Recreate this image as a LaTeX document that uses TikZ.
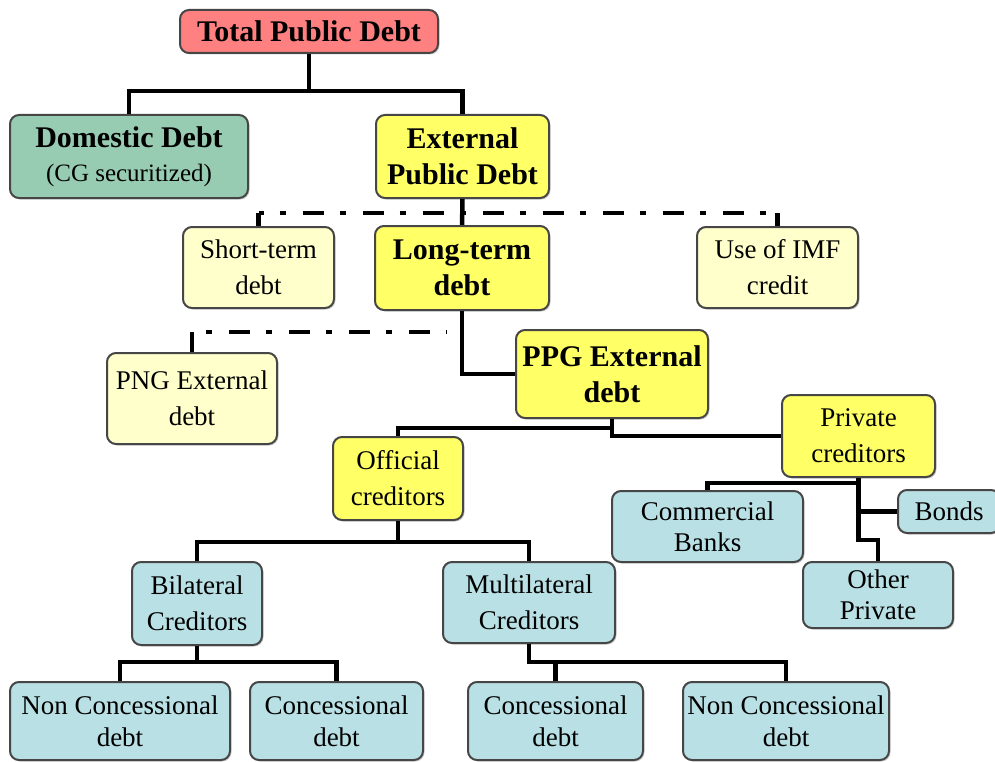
\documentclass[tikz,border=0pt]{standalone}
\usepackage{fontspec}
\setmainfont{Liberation Serif}
\usepackage{tikz}
\usetikzlibrary{shadows}
\definecolor{salmon}{RGB}{255,128,128}
\definecolor{seagreen}{RGB}{152,204,178}
\definecolor{lemon}{RGB}{255,255,102}
\definecolor{cream}{RGB}{255,255,204}
\definecolor{iceblue}{RGB}{185,224,228}
\definecolor{rim}{RGB}{70,70,70}
\tikzset{
block/.style = {draw=rim, line width=2pt, rounded corners=9pt, align=center, inner sep=2pt,
    font=\fontsize{27}{36}\selectfont,
    drop shadow={shadow xshift=1.5pt, shadow yshift=-1.5pt, opacity=0.35}},
hblock/.style = {block, font=\fontsize{30}{36}\selectfont\bfseries},
tmp/.style  = {coordinate},
tree/.style = {line width=4.5pt},
opt/.style  = {tree, dash pattern=on 21pt off 16pt on 6pt off 17pt}
}

\begin{document}
\begin{tikzpicture}[x=1pt,y=-1pt]
    \path [use as bounding box, fill=white] (0,0) rectangle (995,762);
    % We start by placing the boxes
    \node [hblock, fill=salmon, minimum width=258pt, minimum height=43pt] (Total) at (309,31.5) {Total Public Debt};
    \node [hblock, fill=seagreen, minimum width=238pt, minimum height=83pt] (Domestic) at (129,156.5)
        {Domestic Debt\\[-2pt]{\fontsize{25}{34}\selectfont\mdseries (CG securitized)}};
    \node [hblock, fill=lemon, minimum width=173pt, minimum height=83pt] (External) at (462.5,156.5) {External\\Public Debt};
    \node [block, fill=cream, minimum width=151pt, minimum height=81pt] (Short) at (258.5,267.5) {Short-term\\debt};
    \node [hblock, fill=lemon, minimum width=174pt, minimum height=84pt] (Long) at (462,268) {Long-term\\debt};
    \node [block, fill=cream, minimum width=161pt, minimum height=81pt] (IMF) at (777.5,267.5) {Use of IMF\\credit};
    \node [block, fill=cream, minimum width=170pt, minimum height=91pt] (PNG) at (192,398.5) {PNG External\\debt};
    \node [hblock, fill=lemon, minimum width=192pt, minimum height=88pt] (PPG) at (612,374) {PPG External\\debt};
    \node [block, fill=lemon, minimum width=153pt, minimum height=82pt] (Private) at (858.5,436) {Private\\creditors};
    \node [block, fill=lemon, minimum width=130pt, minimum height=83pt] (Official) at (398,478.5) {Official\\creditors};
    \node [block, fill=iceblue, minimum width=191pt, minimum height=71pt] (Commercial) at (707.5,526.5) {Commercial\\[-5pt]Banks};
    \node [block, fill=iceblue, minimum width=102pt, minimum height=43pt] (Bonds) at (949,511.5) {Bonds};
    \node [block, fill=iceblue, minimum width=150pt, minimum height=66pt] (Other) at (878,595) {Other\\[-5pt]Private};
    \node [block, fill=iceblue, minimum width=130pt, minimum height=83pt] (Bilateral) at (197,603.5) {Bilateral\\Creditors};
    \node [block, fill=iceblue, minimum width=172pt, minimum height=81pt] (Multilateral) at (529,602.5) {Multilateral\\Creditors};
    \node [block, fill=iceblue, minimum width=220pt, minimum height=78pt] (NCB) at (120,721) {Non Concessional\\[-4pt]debt};
    \node [block, fill=iceblue, minimum width=173pt, minimum height=78pt] (CB) at (336.5,721) {Concessional\\[-4pt]debt};
    \node [block, fill=iceblue, minimum width=175pt, minimum height=78pt] (CM) at (555.5,721) {Concessional\\[-4pt]debt};
    \node [block, fill=iceblue, minimum width=206pt, minimum height=78pt] (NCM) at (786,721) {Non Concessional\\[-4pt]debt};
    \node [tmp] (tmp1) at (309,91) {};
    \node [tmp] (tmp2) at (462,213) {};
    \node [tmp] (tmp3) at (447,332) {};
    \node [tmp] (tmp4) at (612,428) {};
    \node [tmp] (tmp5) at (858.5,483) {};
    \node [tmp] (tmp6) at (858.5,540) {};
    \node [tmp] (tmp7) at (398,542) {};
    \node [tmp] (tmp8) at (197,662) {};
    \node [tmp] (tmp9) at (529,662) {};

    % Then the lines between them
    \draw [tree] (Total) -- (tmp1);
    \draw [tree] (Domestic) |- (tmp1) -| (External);
    \draw [tree] (External) -- (Long);
    \draw [tree] (Short) -- (Short |- tmp2);
    \draw [tree] (IMF) -- (IMF |- tmp2);
    \draw [opt, dash phase=16pt] (Short |- tmp2) -- (IMF |- tmp2);
    \draw [tree] (PNG) -- (PNG |- tmp3);
    \draw [opt, dash phase=23pt] (PNG |- tmp3) -- (tmp3);
    \draw [tree] (Long) |- (PPG);
    \draw [tree] (PPG) -- (tmp4) -| (Official);
    \draw [tree] (tmp4) |- (Private);
    \draw [tree] (Private) -- (tmp5) -| (Commercial);
    \draw [tree] (tmp5) |- (Bonds);
    \draw [tree] (tmp5) -- (tmp6) -| (Other);
    \draw [tree] (Official) -- (tmp7);
    \draw [tree] (Bilateral) |- (tmp7) -| (Multilateral);
    \draw [tree] (Bilateral) -- (tmp8);
    \draw [tree] (NCB) |- (tmp8) -| (CB);
    \draw [tree] (Multilateral) -- (tmp9) -| (NCM);
    \draw [tree] (tmp9) -| (CM);
\end{tikzpicture}
\end{document}
